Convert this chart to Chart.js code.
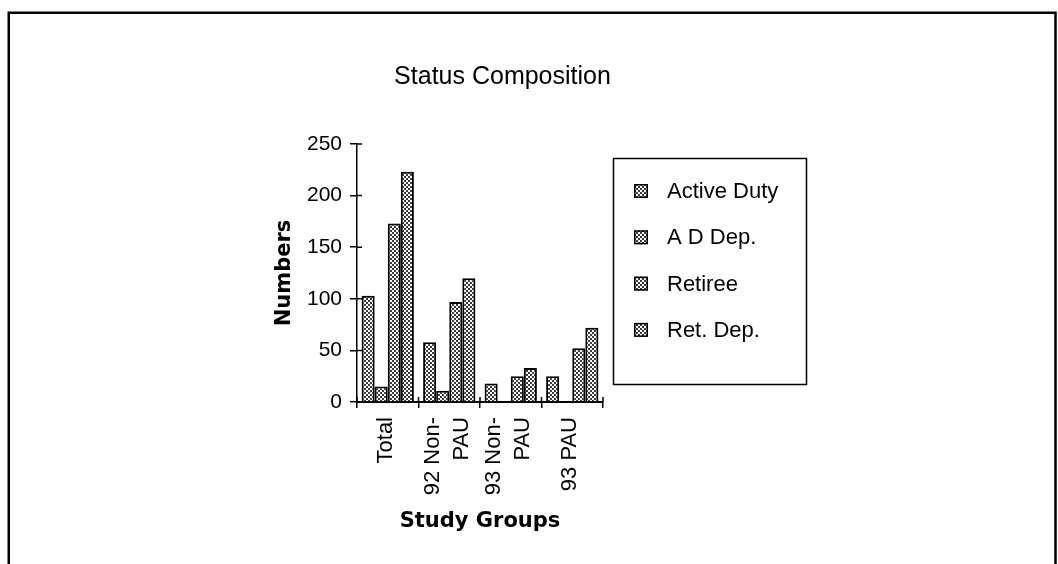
<!DOCTYPE html>
<html><head><meta charset="utf-8">
<script src="https://cdn.jsdelivr.net/npm/chart.js@4.4.1/dist/chart.umd.min.js"></script>
<style>html,body{margin:0;padding:0;background:#fff;overflow:hidden}#wrap{position:relative;width:1058px;height:564px}</style>
</head><body><div id="wrap"><canvas id="c" width="1058" height="564"></canvas></div>
<script>
// ---- data ----
const chartTitle = 'Status Composition';
const categories = [['Total'], ['92 Non-', 'PAU'], ['93 Non-', 'PAU'], ['93 PAU']];
const seriesNames = ['Active Duty', 'A D Dep.', 'Retiree', 'Ret. Dep.'];
const activeDuty = [103, 58, 18, 25];
const adDep      = [15, 11, 0, 0];
const retiree    = [173, 97, 25, 52];
const retDep     = [223, 120, 33, 72];
const yTicks = [0, 50, 100, 150, 200, 250];
const xTitle = 'Study Groups';
const yTitle = 'Numbers';

const canvas = document.getElementById('c');
const ctx0 = canvas.getContext('2d');
function makePattern() {
  const t = document.createElement('canvas'); t.width = 4; t.height = 4;
  const g = t.getContext('2d');
  g.fillStyle = '#fff'; g.fillRect(0, 0, 4, 4);
  g.fillStyle = '#3a3a3a';
  g.fillRect(0, 0, 2, 2); g.fillRect(2, 2, 2, 2);
  return ctx0.createPattern(t, 'repeat');
}
const pat = makePattern();

const framePlugin = {
  id: 'frame',
  beforeDraw(chart) {
    const c = chart.ctx;
    c.save();
    c.fillStyle = '#fff'; c.fillRect(0, 0, chart.width, chart.height);
    c.strokeStyle = '#000'; c.lineWidth = 2.5;
    c.beginPath();
    c.moveTo(8.75, 564); c.lineTo(8.75, 12.75); c.lineTo(1055.5, 12.75); c.lineTo(1055.5, 564);
    c.stroke();
    c.restore();
  },
  afterDraw(chart) {
    const c = chart.ctx;
    const xs = chart.scales.x, ys = chart.scales.y;
    c.save();
    // title
    c.fillStyle = '#000';
    c.font = '25px "Liberation Sans", Arial, sans-serif';
    c.textAlign = 'center'; c.textBaseline = 'middle';
    c.fillText(chartTitle, 502.5, 77);
    // inner tick parts
    c.strokeStyle = '#000'; c.lineWidth = 1.5;
    c.beginPath();
    yTicks.forEach(v => { const y = ys.getPixelForValue(v); c.moveTo(357, y); c.lineTo(362, y); });
    for (let i = 0; i <= categories.length; i++) {
      const x = xs.getPixelForValue(i - 0.5);
      c.moveTo(x, 402); c.lineTo(x, 397);
    }
    c.stroke();
    // x tick labels (multi-line blocks centered on category)
    c.font = '22px "Liberation Sans", Arial, sans-serif';
    c.textAlign = 'right'; c.textBaseline = 'middle';
    const lh = 29;
    categories.forEach((lines, i) => {
      const px = xs.getPixelForValue(i);
      lines.forEach((ln, k) => {
        const cx = px + (k - (lines.length - 1) / 2) * lh - 2;
        c.save(); c.translate(cx, 417); c.rotate(-Math.PI / 2); c.fillText(ln, 0, 0); c.restore();
      });
    });
    // legend
    c.lineWidth = 1.5;
    c.strokeRect(613.5, 158.5, 193, 226);
    c.font = '22px "Liberation Sans", Arial, sans-serif';
    c.textAlign = 'left'; c.textBaseline = 'middle';
    chart.data.datasets.forEach((ds, i) => {
      const cy = 191 + i * 46.3;
      c.fillStyle = ds.backgroundColor;
      c.fillRect(634, cy - 7, 14, 14);
      c.strokeStyle = '#000'; c.lineWidth = 1.5;
      c.strokeRect(634.75, cy - 6.25, 12.5, 12.5);
      c.fillStyle = '#000';
      c.fillText(ds.label, 667, cy + 1);
    });
    c.restore();
  }
};

const seriesValues = [activeDuty, adDep, retiree, retDep];
new Chart(canvas, {
  type: 'bar',
  data: {
    labels: categories.map(l => l.join(' ')),
    datasets: seriesNames.map((n, i) => ({
      label: n, data: seriesValues[i],
      backgroundColor: pat, borderColor: '#000', borderWidth: 2,
      barPercentage: 1.0, categoryPercentage: 0.85
    }))
  },
  options: {
    responsive: false, animation: false, devicePixelRatio: 1,
    layout: { padding: { left: 262, right: 455, top: 144, bottom: 0 } },
    plugins: { legend: { display: false }, title: { display: false }, tooltip: { enabled: false } },
    scales: {
      x: {
        afterFit(s) { s.height = 162; },
        ticks: { display: false },
        grid: { display: true, drawOnChartArea: false, drawTicks: true, tickLength: 6, color: '#000', lineWidth: 1.5, offset: true },
        border: { display: true, color: '#000', width: 2 },
        title: { display: true, text: xTitle, color: '#000',
          font: { family: '"DejaVu Sans"', size: 21, weight: 'bold' }, padding: { top: 0, bottom: 29.4 } }
      },
      y: {
        min: 0, max: 250,
        afterFit(s) { s.width = 95; },
        afterBuildTicks(s) { s.ticks = yTicks.map(v => ({ value: v })); },
        ticks: { color: '#000', padding: 8, font: { family: '"Liberation Sans"', size: 21 } },
        grid: { display: true, drawOnChartArea: false, drawTicks: true, tickLength: 7, color: '#000', lineWidth: 1.5 },
        border: { display: true, color: '#000', width: 1.5 },
        title: { display: true, text: yTitle, color: '#000',
          font: { family: '"DejaVu Sans"', size: 21, weight: 'bold' }, padding: { top: 10.4, bottom: 0 } }
      }
    }
  },
  plugins: [framePlugin]
});
</script></body></html>
